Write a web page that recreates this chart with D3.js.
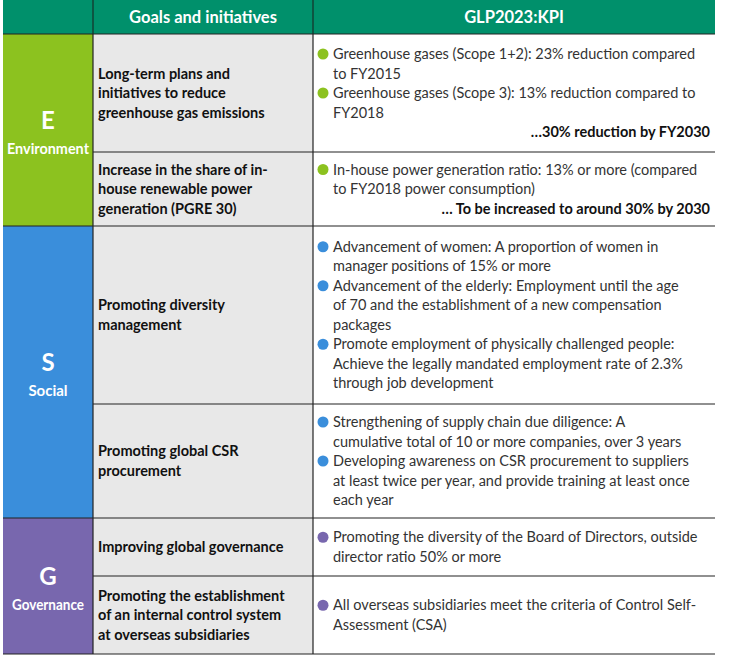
<!DOCTYPE html><html><head><meta charset="utf-8"><script src="https://cdn.jsdelivr.net/npm/d3@7"></script>
<style>body{margin:0;background:#fff}</style></head><body><svg id="c" width="730" height="658"></svg>
<script>
const headers=["Goals and initiatives","GLP2023:KPI"];
const groups=[
 {letter:"E",name:"Environment",color:"#8cc21f",dot:"#8cc21f",y0:34,y1:226},
 {letter:"S",name:"Social",color:"#3a8edb",dot:"#3a8edb",y0:226,y1:518},
 {letter:"G",name:"Governance",color:"#7867ae",dot:"#7867ae",y0:518,y1:654}];
const rows=[
 {g:0,y0:34,y1:152,goal:["Long-term plans and","initiatives to reduce","greenhouse gas emissions"],
  kpi:[["Greenhouse gases (Scope 1+2): 23% reduction compared","to FY2015"],["Greenhouse gases (Scope 3): 13% reduction compared to","FY2018"]],note:"…30% reduction by FY2030"},
 {g:0,y0:152,y1:226,goal:["Increase in the share of in-","house renewable power","generation (PGRE 30)"],
  kpi:[["In-house power generation ratio: 13% or more (compared","to FY2018 power consumption)"]],note:"… To be increased to around 30% by 2030"},
 {g:1,y0:226,y1:404,goal:["Promoting diversity","management"],
  kpi:[["Advancement of women: A proportion of women in","manager positions of 15% or more"],["Advancement of the elderly: Employment until the age","of 70 and the establishment of a new compensation","packages"],["Promote employment of physically challenged people:","Achieve the legally mandated employment rate of 2.3%","through job development"]]},
 {g:1,y0:404,y1:518,goal:["Promoting global CSR","procurement"],
  kpi:[["Strengthening of supply chain due diligence: A","cumulative total of 10 or more companies, over 3 years"],["Developing awareness on CSR procurement to suppliers","at least twice per year, and provide training at least once","each year"]]},
 {g:2,y0:518,y1:576,goal:["Improving global governance"],
  kpi:[["Promoting the diversity of the Board of Directors, outside","director ratio 50% or more"]]},
 {g:2,y0:576,y1:654,goal:["Promoting the establishment","of an internal control system","at overseas subsidiaries"],
  kpi:[["All overseas subsidiaries meet the criteria of Control Self-","Assessment (CSA)"]]}];
const x=d3.scaleOrdinal().domain(["g","goal","kpi","end"]).range([3,93,313,715]);
const svg=d3.select("#c"),F="Lato, 'Open Sans', sans-serif",LH=19.5;
svg.append("rect").attr("x",3).attr("y",0).attr("width",712).attr("height",34).attr("fill","#00906b");
svg.selectAll(".h").data(headers).join("text").attr("x",(d,i)=>i?(x("kpi")+x("end"))/2:(x("goal")+x("kpi"))/2).attr("y",23)
 .attr("text-anchor","middle").attr("fill","#fff").attr("font-family",F).attr("font-size",16.5).attr("font-weight",700).text(d=>d);
svg.append("line").attr("x1",x("goal")).attr("x2",x("goal")).attr("y1",0).attr("y2",34).attr("stroke","#1a1a1a");
svg.append("line").attr("x1",x("kpi")).attr("x2",x("kpi")).attr("y1",0).attr("y2",34).attr("stroke","#1a1a1a");
groups.forEach(g=>{
 svg.append("rect").attr("x",x("g")).attr("y",g.y0).attr("width",x("goal")-x("g")).attr("height",g.y1-g.y0).attr("fill",g.color);
 const cy=(g.y0+g.y1)/2;
 svg.append("text").attr("x",(x("g")+x("goal"))/2).attr("y",cy-1).attr("text-anchor","middle").attr("fill","#fff").attr("font-family",F).attr("font-size",24).attr("font-weight",700).text(g.letter);
 svg.append("text").attr("x",(x("g")+x("goal"))/2).attr("y",cy+24).attr("text-anchor","middle").attr("fill","#fff").attr("font-family",F).attr("font-size",15).attr("font-weight",700).attr("textLength",g.name.length>7?(g.name.length>10?82:72):null).attr("lengthAdjust","spacingAndGlyphs").text(g.name);
});
rows.forEach(r=>{
 svg.append("rect").attr("x",x("goal")).attr("y",r.y0).attr("width",x("kpi")-x("goal")).attr("height",r.y1-r.y0).attr("fill","#e8e8e8");
 const n=r.goal.length,gy=(r.y0+r.y1)/2-(n-1)*LH/2+5;
 r.goal.forEach((t,i)=>svg.append("text").attr("x",x("goal")+5).attr("y",gy+i*LH).attr("fill","#111").attr("font-family",F).attr("font-size",14.5).attr("font-weight",700).text(t));
 let lines=0;r.kpi.forEach(k=>lines+=k.length);if(r.note)lines++;
 let y=(r.y0+r.y1)/2-(lines-1)*LH/2+5;
 r.kpi.forEach(k=>{
  svg.append("circle").attr("cx",x("kpi")+10).attr("cy",y-5).attr("r",5.5).attr("fill",groups[r.g].dot);
  k.forEach(t=>{svg.append("text").attr("x",x("kpi")+20).attr("y",y).attr("fill","#333").attr("font-family",F).attr("font-size",14.5).text(t);y+=LH;});
 });
 if(r.note)svg.append("text").attr("x",x("end")-5).attr("y",y).attr("text-anchor","end").attr("fill","#111").attr("font-family",F).attr("font-size",14.5).attr("font-weight",700).text(r.note);
});
const bs=[34,152,226,404,518,576,654];
bs.forEach(b=>{const full=[34,226,518,654].includes(b);svg.append("line").attr("x1",full?3:93).attr("x2",715).attr("y1",b).attr("y2",b).attr("stroke","#222").attr("stroke-width",1.2);});
["goal","kpi"].forEach(k=>svg.append("line").attr("x1",x(k)).attr("x2",x(k)).attr("y1",34).attr("y2",654).attr("stroke","#222").attr("stroke-width",1.2));
</script></body></html>
